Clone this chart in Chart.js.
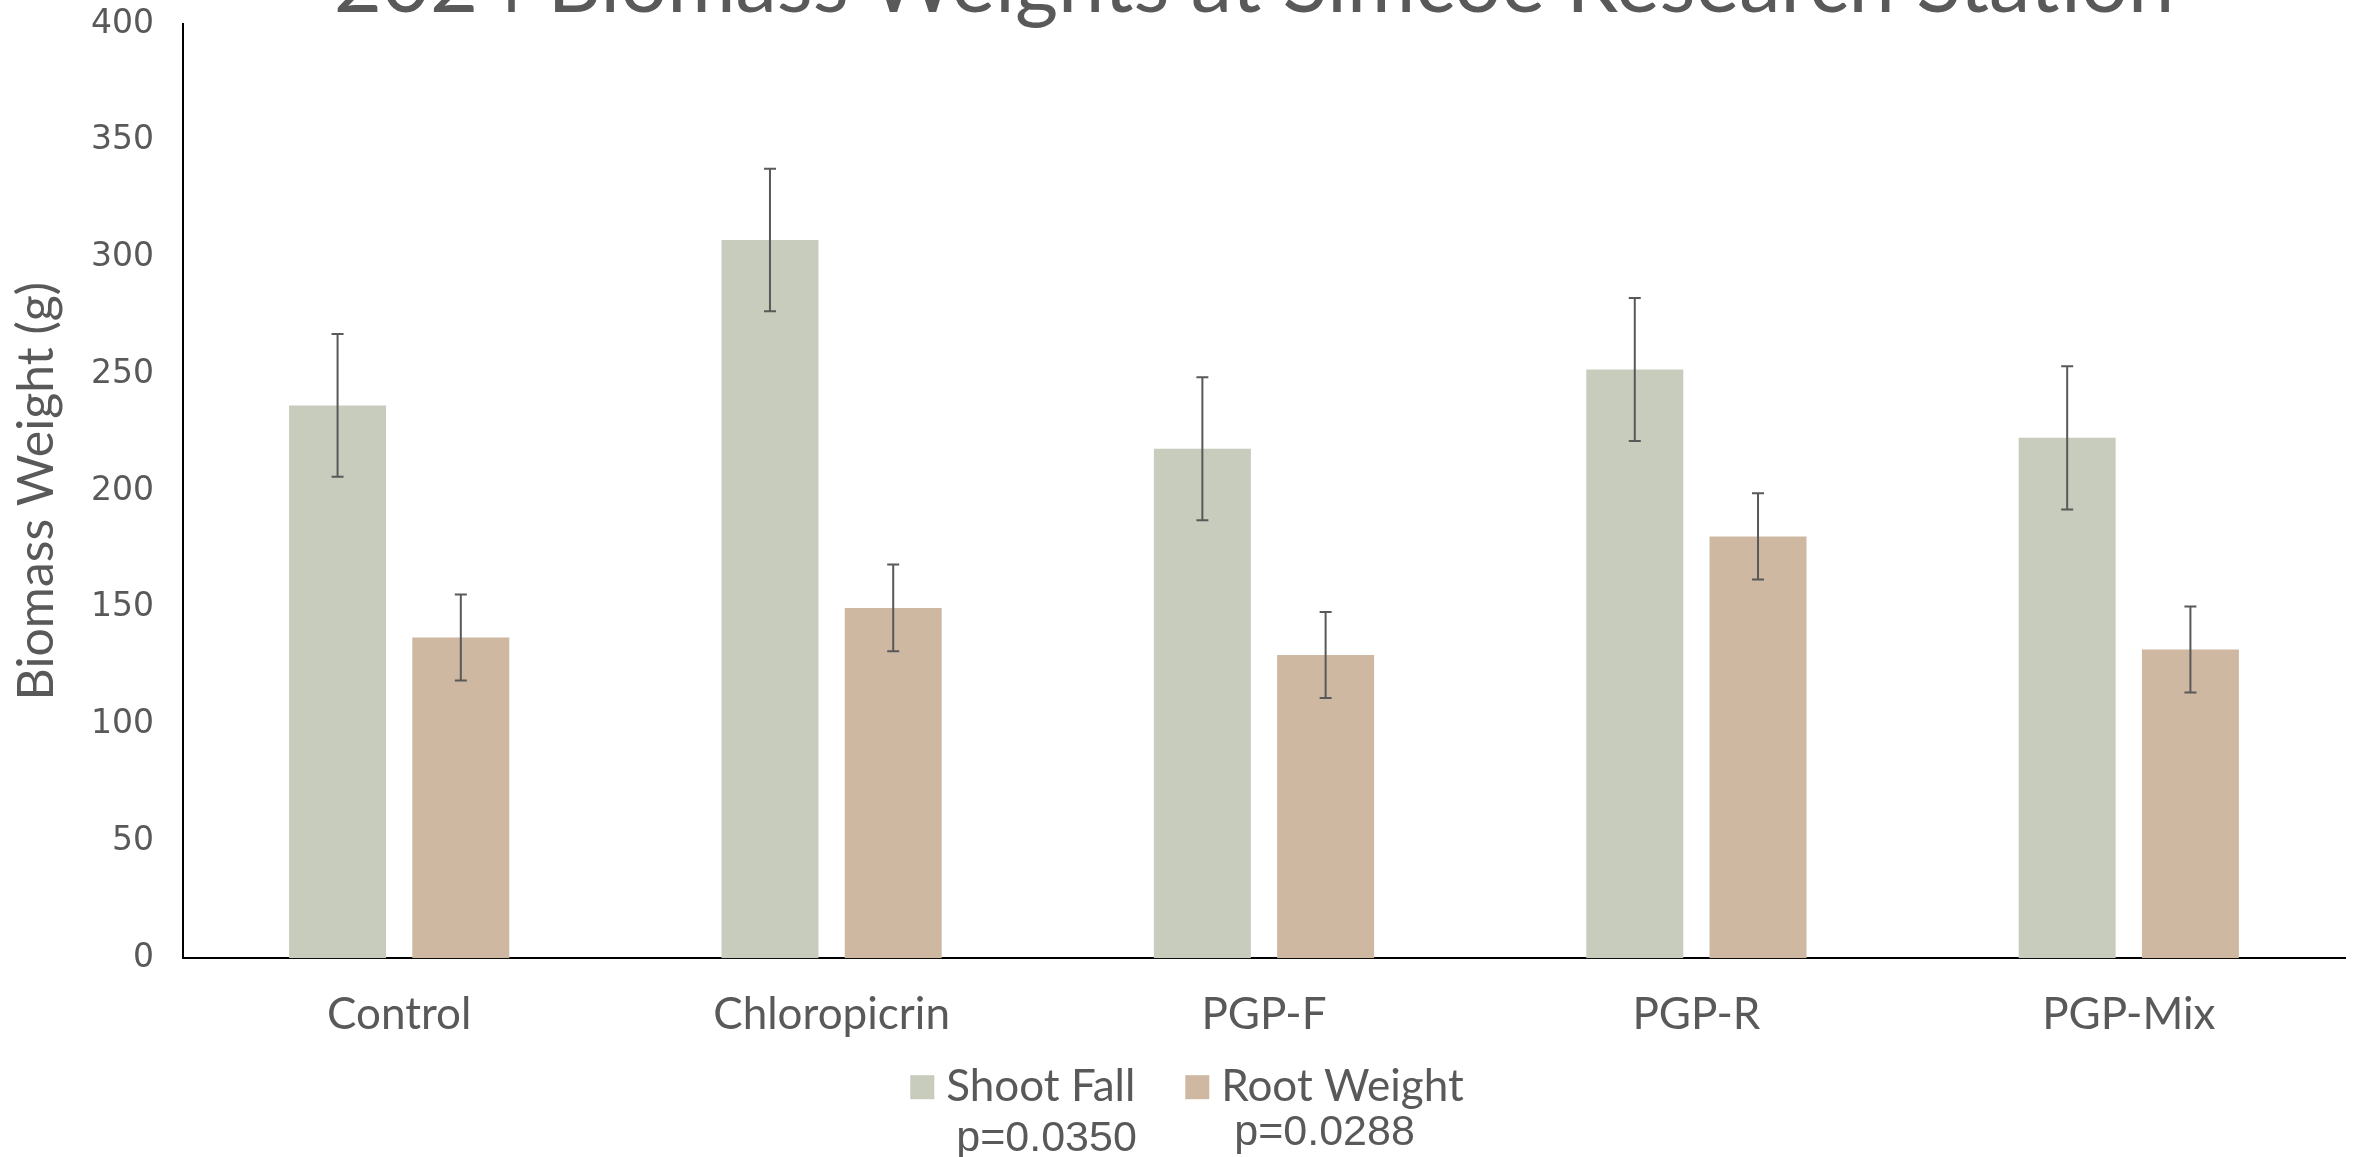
<!DOCTYPE html>
<html>
<head>
<meta charset="utf-8">
<script src="https://cdn.jsdelivr.net/npm/chart.js@4.4.1/dist/chart.umd.min.js"></script>
<style>
  html, body { margin: 0; padding: 0; background: #fff; overflow: hidden; }
  #wrap { width: 2354px; height: 1157px; }
</style>
</head>
<body>
<div id="wrap"><canvas id="biomassChart" width="2354" height="1157"></canvas></div>
<script>
"use strict";

// Chart data
const chartTitle = "2024 Biomass Weights at Simcoe Research Station";
const categories = ["Control", "Chloropicrin", "PGP-F", "PGP-R", "PGP-Mix"];
const shootFall  = [236.7, 307.5, 218.1, 252.1, 222.8];
const rootWeight = [137.3, 150.0, 129.8, 180.6, 132.2];
const shootErr   = [30.6, 30.5, 30.6, 30.6, 30.7];
const rootErr    = [18.4, 18.6, 18.4, 18.5, 18.4];
const seriesNames = ["Shoot Fall", "Root Weight"];
const seriesColors = ["#C7CCBD", "#CEB8A1"];
const pValues    = ["p=0.0350", "p=0.0288"];
const yMax = 400;
const yStep = 50;

const textGrey = "#595959";

// Error bars (drawn through the y scale)
const errorBars = {
  id: "errorBars",
  afterDatasetsDraw(chart) {
    const ctx = chart.ctx;
    const y = chart.scales.y;
    ctx.save();
    ctx.strokeStyle = "#595959";
    ctx.lineWidth = 2;
    chart.data.datasets.forEach(function (ds, i) {
      const meta = chart.getDatasetMeta(i);
      meta.data.forEach(function (bar, j) {
        const top = y.getPixelForValue(ds.data[j] + ds.errors[j]);
        const bot = y.getPixelForValue(ds.data[j] - ds.errors[j]);
        ctx.beginPath();
        ctx.moveTo(bar.x, top); ctx.lineTo(bar.x, bot);
        ctx.moveTo(bar.x - 6, top); ctx.lineTo(bar.x + 6, top);
        ctx.moveTo(bar.x - 6, bot); ctx.lineTo(bar.x + 6, bot);
        ctx.stroke();
      });
    });
    ctx.restore();
  }
};

// Title sits partly above the canvas edge, like the source image
const topTitle = {
  id: "topTitle",
  afterDraw(chart) {
    const ctx = chart.ctx;
    const area = chart.chartArea;
    ctx.save();
    ctx.font = "83px Lato";
    ctx.fillStyle = textGrey;
    ctx.textAlign = "center";
    ctx.textBaseline = "alphabetic";
    ctx.fillText(chartTitle, (area.left + area.right) / 2 - 10, area.top - 12);
    ctx.restore();
  }
};

// Legend with a p-value under each entry
const pLegend = {
  id: "pLegend",
  afterDraw(chart) {
    const ctx = chart.ctx;
    const area = chart.chartArea;
    const box = 24, boxGap = 12, itemGap = 50;
    ctx.save();
    ctx.font = "44px Lato";
    const widths = seriesNames.map(n => ctx.measureText(n).width);
    const total = 2 * (box + boxGap) + widths[0] + widths[1] + itemGap;
    let x = chart.width / 2 + 10 - total / 2;
    const midY = area.bottom + 129;
    seriesNames.forEach(function (name, i) {
      ctx.fillStyle = seriesColors[i];
      ctx.fillRect(x, midY - box / 2, box, box);
      const tx = x + box + boxGap;
      ctx.font = "44px Lato";
      ctx.fillStyle = textGrey;
      ctx.textAlign = "left";
      ctx.textBaseline = "middle";
      ctx.fillText(name, tx, midY);
      ctx.font = "43px 'Liberation Sans'";
      ctx.textBaseline = "alphabetic";
      ctx.fillText(pValues[i], tx + 10 + i * 3, midY + 64 - i * 6);
      x = tx + widths[i] + itemGap;
    });
    ctx.restore();
  }
};

new Chart(document.getElementById("biomassChart"), {
  type: "bar",
  data: {
    labels: categories,
    datasets: [
      {
        label: seriesNames[0],
        data: shootFall,
        errors: shootErr,
        backgroundColor: seriesColors[0]
      },
      {
        label: seriesNames[1],
        data: rootWeight,
        errors: rootErr,
        backgroundColor: seriesColors[1]
      }
    ]
  },
  options: {
    responsive: false,
    animation: false,
    categoryPercentage: 0.57,
    barPercentage: 0.787,
    layout: { padding: { top: 24, right: 9, left: 0, bottom: 86 } },
    plugins: {
      title: { display: false },
      tooltip: { enabled: false },
      legend: { display: false }
    },
    scales: {
      x: {
        grid: { display: false, drawTicks: false },
        border: { display: true, color: "#000", width: 2 },
        ticks: { color: textGrey, padding: 30, font: { family: "Lato", size: 44 } }
      },
      y: {
        min: 0,
        max: yMax,
        // tick marks are not drawn (grid hidden); their length only spaces the labels
        grid: { display: false, drawTicks: true, tickLength: 25 },
        border: { display: true, color: "#000", width: 2 },
        ticks: {
          stepSize: yStep,
          color: textGrey,
          padding: 4,
          font: { family: "DejaVu Sans", size: 33 }
        },
        title: {
          display: true,
          text: "Biomass Weight (g)",
          color: textGrey,
          padding: { top: 12, bottom: 25 },
          font: { family: "Lato", size: 50, lineHeight: 1.0 }
        }
      }
    }
  },
  plugins: [errorBars, topTitle, pLegend]
});
</script>
</body>
</html>
